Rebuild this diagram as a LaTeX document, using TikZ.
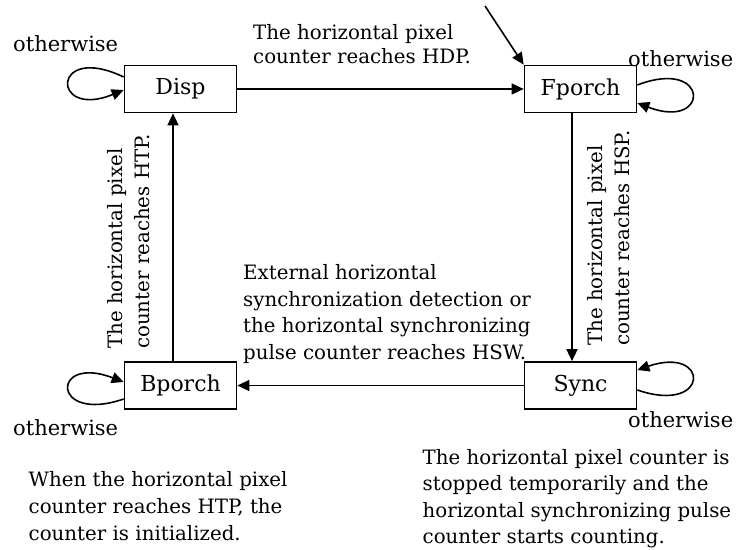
\documentclass[tikz,border=0pt]{standalone}
\usepackage{fontspec}
\setmainfont{DejaVu Serif}
\usetikzlibrary{arrows.meta,calc}
\newcommand\fsz{\fontsize{19.8}{27}\selectfont}
\newcommand\fszm{\fontsize{19.8}{26.5}\selectfont}
\newcommand\fszb{\fontsize{19.8}{24}\selectfont}
\newcommand\fszo{\fontsize{21}{25}\selectfont}
\newcommand\fszs{\fontsize{22}{26}\selectfont}
\begin{document}
\begin{tikzpicture}[x=1pt,y=-1pt,
  state/.style={draw,line width=1.7pt,minimum width=112pt,minimum height=47pt,inner sep=0pt,font=\fszs},
  arr/.style={line width=1.6pt,-{Triangle[length=12pt,width=11pt]}},
  lbl/.style={inner sep=0pt,font=\fsz,align=left}
]
\path[fill=white,use as bounding box] (0,0) rectangle (739,549);

\node[state] (disp) at (180.5,89) {Disp};
\node[state] (fp) at (580.5,89) {Fporch};
\node[state] (bp) at (180.5,385.5) {Bporch};
\node[state] (sync) at (580.5,385.5) {Sync};
\coordinate (init) at (485,6);

\draw[arr] (disp.east) -- (fp.west);
\draw[arr] ($(fp.south)+(-8.5,0)$) -- ($(sync.north)+(-8.5,0)$);
\draw[arr] (sync.west) -- (bp.east);
\draw[arr] ($(bp.north)+(-7.5,0)$) -- ($(disp.south)+(-7.5,0)$);
\draw[arr] (init) -- (fp.north west);

% self loops
\draw[arr] ($(disp.west)+(0,-12)$) .. controls +(-73,-35) and +(-73,30) .. ($(disp.west)+(0,1)$);
\draw[arr] ($(fp.east)+(0,-4)$) .. controls +(73,-28) and +(73,28) .. ($(fp.east)+(0,14)$);
\draw[arr] ($(bp.west)+(0,13.5)$) .. controls +(-73,25) and +(-73,-28) .. ($(bp.west)+(0,-3.5)$);
\draw[arr] ($(sync.east)+(0,4.5)$) .. controls +(73,25) and +(73,-25) .. ($(sync.east)+(0,-15.5)$);

% otherwise labels
\node[lbl,font=\fszo,anchor=base west] (o1) at (13,51) {otherwise};
\node[lbl,font=\fszo,anchor=base west] (o2) at (628,66) {otherwise};
\node[lbl,font=\fszo,anchor=base west] (o3) at (13,435) {otherwise};
\node[lbl,font=\fszo,anchor=base west] (o4) at (628,427) {otherwise};

% transition labels
\node[lbl,font=\fszb,anchor=north west] (t1) at (253,24.5) {The horizontal pixel\\counter reaches HDP.};
\node[lbl,font=\fszm,anchor=north west] (t2) at (243,264.5) {External horizontal\\synchronization detection or\\the horizontal synchronizing\\pulse counter reaches HSW.};
\node[lbl,anchor=north west,rotate=90] (t3) at (107,349) {The horizontal pixel\\counter reaches HTP.};
\node[lbl,anchor=north west,rotate=90] (t4) at (587,346) {The horizontal pixel\\counter reaches HSP.};

% notes
\node[lbl,anchor=north west] (n1) at (28.5,471) {When the horizontal pixel\\counter reaches HTP, the\\counter is initialized.};
\node[lbl,font=\fszm,anchor=north west] (n2) at (422.5,449) {The horizontal pixel counter is\\stopped temporarily and the\\horizontal synchronizing pulse\\counter starts counting.};
\end{tikzpicture}
\end{document}
